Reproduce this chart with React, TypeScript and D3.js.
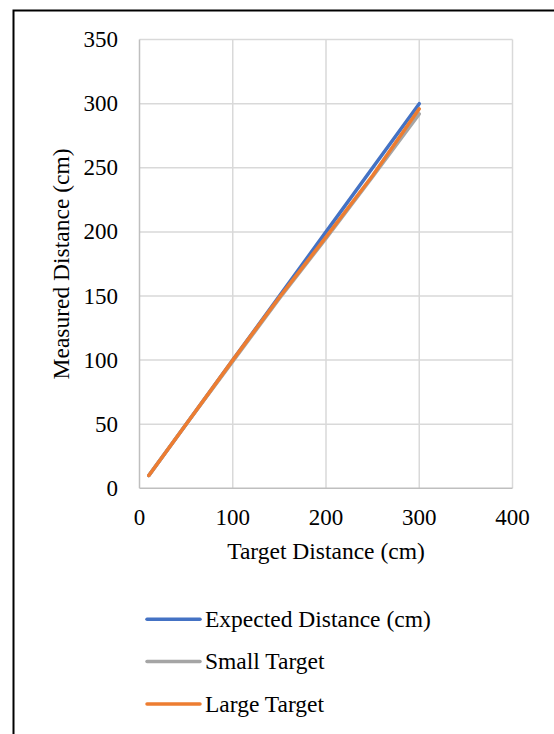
import React, { useEffect, useRef } from "react";
import * as d3 from "d3";

const targetDistance = [10, 50, 100, 150, 200, 250, 300];
const expectedDistance = [10, 50, 100, 150, 200, 250, 300];
const smallTarget = [10, 50, 99, 148, 195, 243, 292];
const largeTarget = [10, 50, 100, 149, 196, 244, 296];

const xTicks = [0, 100, 200, 300, 400];
const yTicks = [0, 50, 100, 150, 200, 250, 300, 350];

const seriesNames = ["Expected Distance (cm)", "Small Target", "Large Target"];
const seriesColors = ["#4472C4", "#A5A5A5", "#ED7D31"];

export default function App() {
  const ref = useRef<SVGSVGElement>(null);

  useEffect(() => {
    const width = 554;
    const height = 734;
    const marginLeft = 139.5;
    const marginRight = 41.5;
    const marginTop = 39.6;
    const plotBottom = 488.3;
    const font = "'Liberation Serif', 'Times New Roman', serif";

    const svg = d3.select(ref.current);
    svg.selectAll("*").remove();

    // outer frame (right and bottom run off the page)
    svg
      .append("rect")
      .attr("x", 13.5)
      .attr("y", 10.5)
      .attr("width", width + 20)
      .attr("height", height + 20)
      .attr("fill", "white")
      .attr("stroke", "black")
      .attr("stroke-width", 2);

    const x = d3.scaleLinear([0, 400], [marginLeft, width - marginRight]);
    const y = d3.scaleLinear([0, 350], [plotBottom, marginTop]);

    // grid
    const grid = svg.append("g");
    grid
      .selectAll("line.v")
      .data(xTicks.slice(1))
      .join("line")
      .attr("x1", (d) => x(d))
      .attr("x2", (d) => x(d))
      .attr("y1", y(350))
      .attr("y2", y(0))
      .attr("stroke", "#d9d9d9")
      .attr("stroke-width", 1.5);
    grid
      .selectAll("line.h")
      .data(yTicks.slice(1))
      .join("line")
      .attr("x1", x(0))
      .attr("x2", x(400))
      .attr("y1", (d) => y(d))
      .attr("y2", (d) => y(d))
      .attr("stroke", "#d9d9d9")
      .attr("stroke-width", 1.5);

    // axis lines
    svg
      .append("line")
      .attr("x1", x(0))
      .attr("x2", x(400))
      .attr("y1", y(0))
      .attr("y2", y(0))
      .attr("stroke", "#bfbfbf")
      .attr("stroke-width", 1.5);
    svg
      .append("line")
      .attr("x1", x(0))
      .attr("x2", x(0))
      .attr("y1", y(0))
      .attr("y2", y(350))
      .attr("stroke", "#bfbfbf")
      .attr("stroke-width", 1.5);

    // tick labels
    svg
      .append("g")
      .selectAll("text")
      .data(yTicks)
      .join("text")
      .attr("x", 118)
      .attr("y", (d) => y(d))
      .attr("dy", "0.33em")
      .attr("text-anchor", "end")
      .attr("font-family", font)
      .attr("font-size", 23)
      .attr("fill", "#000")
      .text((d) => d);

    svg
      .append("g")
      .selectAll("text")
      .data(xTicks)
      .join("text")
      .attr("x", (d) => x(d))
      .attr("y", 525)
      .attr("text-anchor", "middle")
      .attr("font-family", font)
      .attr("font-size", 23)
      .attr("fill", "#000")
      .text((d) => d);

    // axis titles
    svg
      .append("text")
      .attr("x", (x(0) + x(400)) / 2)
      .attr("y", 559)
      .attr("text-anchor", "middle")
      .attr("font-family", font)
      .attr("font-size", 23.5)
      .text("Target Distance (cm)");

    svg
      .append("text")
      .attr("transform", `translate(69,${(y(0) + y(350)) / 2}) rotate(-90)`)
      .attr("text-anchor", "middle")
      .attr("font-family", font)
      .attr("font-size", 23.5)
      .text("Measured Distance (cm)");

    // series
    const allSeries = [expectedDistance, smallTarget, largeTarget];
    const line = d3
      .line<number>()
      .x((_, i) => x(targetDistance[i]))
      .y((d) => y(d));

    allSeries.forEach((vals, i) => {
      svg
        .append("path")
        .attr("fill", "none")
        .attr("stroke", seriesColors[i])
        .attr("stroke-width", 3.5)
        .attr("stroke-linecap", "round")
        .attr("stroke-linejoin", "round")
        .attr("d", line(vals));
    });

    // legend
    const legend = svg
      .append("g")
      .selectAll("g")
      .data(seriesNames)
      .join("g")
      .attr("transform", (_, i) => `translate(147,${619.3 + i * 42.3})`);
    legend
      .append("line")
      .attr("x1", 0)
      .attr("x2", 53)
      .attr("stroke", (_, i) => seriesColors[i])
      .attr("stroke-width", 3.5)
      .attr("stroke-linecap", "round");
    legend
      .append("text")
      .attr("x", 58)
      .attr("dy", "0.33em")
      .attr("font-family", font)
      .attr("font-size", 23.5)
      .text((d) => d);
  }, []);

  return (
    <svg
      ref={ref}
      width={554}
      height={734}
      style={{ position: "absolute", left: 0, top: 0, display: "block" }}
    />
  );
}
